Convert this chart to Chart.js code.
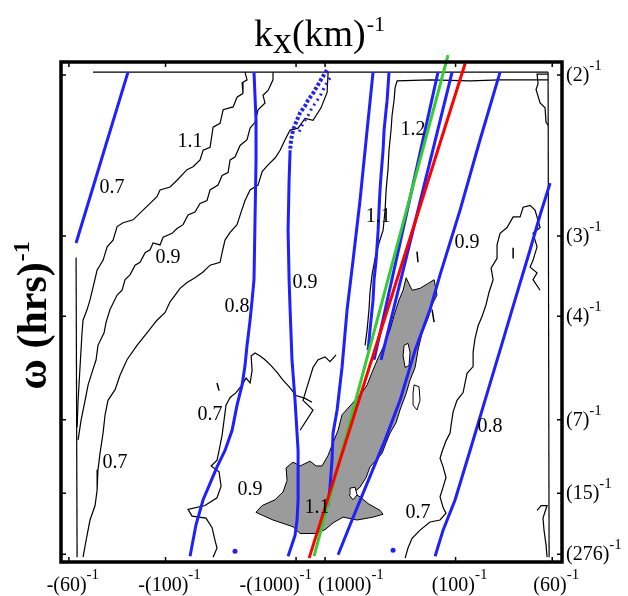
<!DOCTYPE html>
<html><head><meta charset="utf-8">
<script src="https://cdn.jsdelivr.net/npm/chart.js@4"></script>
<style>html,body{margin:0;padding:0;background:#fff;} #wrap{width:628px;height:596px;}</style>
</head><body><div id="wrap"><canvas id="c" width="628" height="596"></canvas></div>
<script>
// ---- axis ticks (kx in 10^-3 km^-1, omega in hr^-1) ----
const kTicks = [-1000/60, -10, -1, 1, 10, 1000/60];
const kTickLabels = ['-(60)', '-(100)', '-(1000)', '(1000)', '(100)', '(60)'];
const wTicks = [1/2, 1/3, 1/4, 1/7, 1/15, 1/276];
const wTickLabels = ['(2)', '(3)', '(4)', '(7)', '(15)', '(276)'];

// ---- black coherence contours [kx, omega] ----
const contourTop = [[-15.00,.503],[16.38,.503]];
const contourLeftEdge = [[-16.17,.311],[-16.10,.0005]];
const contourRightEdge = [[16.38,.503],[16.45,.0005]];
const contourA = [[-4.52,.503],[-4.38,.495],[-4.72,.492],[-4.66,.481],[-5.07,.477],[-5.34,.467],[-6.03,.464],[-6.24,.450],[-6.72,.446],[-6.93,.425],[-7.41,.422],[-7.62,.412],[-8.10,.405],[-8.52,.402],[-9.21,.391],[-9.69,.384],[-10.38,.381],[-10.59,.374],[-11.07,.367],[-11.55,.360],[-12.24,.350],[-12.93,.347],[-13.34,.343],[-13.62,.329],[-14.03,.322],[-14.31,.308],[-14.72,.298],[-15.00,.280],[-15.21,.267],[-15.41,.257],[-15.69,.246],[-15.76,.233],[-15.90,.197],[-16.03,.163],[-16.10,.135]];
const contourB = [[-2.59,.503],[-2.59,.495],[-2.93,.484],[-3.28,.479],[-3.14,.471],[-3.62,.464],[-3.83,.451],[-4.17,.445],[-4.38,.433],[-4.86,.427],[-5.21,.415],[-5.55,.412],[-5.69,.399],[-6.10,.396],[-6.38,.386],[-6.93,.381],[-7.14,.370],[-7.62,.367],[-7.97,.358],[-8.45,.355],[-8.79,.345],[-9.21,.341],[-9.55,.336],[-10.17,.332],[-10.38,.324],[-10.86,.326],[-11.07,.319],[-11.41,.316],[-11.76,.306],[-12.10,.303],[-12.45,.293],[-12.79,.288],[-13.00,.277],[-13.34,.272],[-13.83,.257],[-14.10,.244],[-14.24,.233],[-14.66,.220],[-14.79,.205],[-15.07,.192],[-15.34,.179],[-15.55,.163],[-15.83,.142],[-16.03,.122]];
const contourC = [[1.21,.503],[1.14,.482],[0.72,.466],[0.17,.453],[-0.38,.455],[-0.86,.445],[-1.41,.443],[-1.76,.433],[-2.10,.422],[-2.45,.414],[-2.93,.407],[-3.34,.400],[-3.62,.386],[-4.17,.381],[-4.52,.370],[-4.79,.358],[-5.07,.345],[-5.55,.337],[-5.90,.329],[-6.10,.316],[-6.24,.306],[-6.93,.303],[-7.41,.296],[-7.97,.290],[-8.52,.285],[-9.00,.279],[-9.34,.272],[-9.69,.265],[-10.03,.254],[-10.59,.246],[-11.28,.233],[-11.97,.220],[-12.66,.205],[-13.14,.189],[-13.48,.174],[-13.97,.163],[-14.17,.148],[-14.31,.129],[-14.52,.108],[-14.66,.091],[-14.72,.070],[-14.86,.054],[-15.21,.039],[-15.48,.018],[-15.69,.0005]];
const contourD = [[0.10,.161],[-0.38,.165],[-1.00,.168],[-1.41,.176],[-1.90,.184],[-2.31,.192],[-2.72,.199],[-3.14,.205],[-3.48,.209],[-3.83,.212],[-4.10,.209],[-4.03,.194],[-4.17,.181],[-4.45,.186],[-4.72,.179],[-5.14,.171],[-5.55,.166],[-5.83,.158],[-5.97,.142],[-6.10,.127],[-6.31,.111],[-6.45,.101],[-6.86,.095],[-6.31,.089],[-6.17,.074],[-6.45,.062],[-7.28,.054],[-8.45,.050],[-8.17,.043],[-7.21,.041],[-6.79,.031],[-6.59,.018],[-6.45,.010],[-6.72,.0005]];
const contourE = [[-0.72,.132],[0.17,.153],[-0.52,.163],[-0.24,.177],[0.17,.197],[0.52,.205],[1.00,.208],[1.34,.203],[1.76,.210]];
const contour12 = [[16.38,.495],[13.07,.495],[11.00,.494],[8.24,.495],[5.97,.494],[5.83,.487],[5.76,.474],[5.62,.458],[5.55,.443],[5.41,.422],[5.34,.402],[5.21,.381],[5.14,.360],[5.00,.339],[4.72,.326],[4.45,.310],[4.24,.293],[4.10,.275],[4.03,.257],[3.90,.236],[3.76,.220]];
const contourR = [[15.83,.277],[15.34,.288],[15.62,.295],[15.14,.301],[15.34,.308],[15.62,.322],[15.34,.336],[15.83,.342],[15.48,.360],[15.14,.365],[14.66,.363],[14.45,.353],[13.97,.353],[13.55,.342],[13.07,.336],[12.86,.324],[12.86,.310],[12.45,.300],[12.59,.288],[12.31,.275],[12.10,.262],[11.83,.250],[11.55,.240],[11.34,.227],[11.21,.213],[11.21,.198],[10.79,.191],[10.52,.171],[10.10,.163],[9.83,.151],[9.69,.137],[9.62,.129],[9.34,.121],[9.07,.110],[8.93,.103],[9.14,.094],[9.34,.083],[9.14,.073],[8.93,.063],[9.14,.052],[9.34,.046],[8.93,.039],[8.24,.037],[7.55,.0285],[7.00,.020],[6.72,.010],[6.52,-.0005]];
const contourRTop = [[16.38,.501],[15.62,.501],[15.69,.491],[15.55,.485],[15.83,.471],[16.17,.466],[16.24,.451],[16.38,.448]];
const contourRBot = [[15.62,.049],[15.90,.054],[16.31,.054],[16.03,.041],[16.10,.0285],[16.24,.013],[16.31,.0005]];
const islands = [[[7.34,.317],[7.41,.306]], [[13.97,.321],[13.97,.310]], [[8.38,.257],[8.52,.244]], [[-6.45,.181],[-6.31,.173]]];

// ---- shaded (significant) region and its holes ----
const shaded = [[-3.76,.047],[-3.34,.054],[-2.45,.060],[-1.90,.068],[-1.62,.080],[-1.69,.093],[-1.21,.099],[-0.72,.095],[-0.03,.100],[0.38,.095],[0.79,.095],[1.21,.106],[1.55,.119],[1.90,.132],[2.17,.148],[2.59,.155],[3.07,.163],[3.55,.171],[3.90,.179],[4.24,.192],[4.66,.207],[5.14,.222],[5.48,.236],[5.76,.251],[6.10,.267],[6.38,.277],[6.59,.290],[7.00,.277],[7.55,.279],[8.10,.284],[8.52,.288],[8.72,.272],[8.38,.262],[8.10,.248],[7.69,.233],[7.41,.215],[7.21,.197],[6.86,.184],[6.59,.170],[6.17,.153],[5.90,.140],[5.48,.129],[5.21,.119],[4.93,.108],[4.52,.101],[4.10,.094],[3.83,.083],[3.41,.073],[2.93,.067],[3.41,.063],[3.97,.056],[4.79,.049],[5.00,.045],[4.31,.042],[3.21,.039],[2.24,.042],[1.55,.036],[1.00,.029],[0.31,.025],[-0.72,.025],[-1.21,.032],[-2.59,.039],[-3.48,.045],[-3.76,.047]];
const holes = [
  [[6.45,.220],[6.72,.222],[6.86,.213],[6.79,.199],[6.52,.197],[6.38,.209],[6.45,.220]],
  [[7.14,.179],[7.48,.177],[7.55,.163],[7.34,.153],[7.07,.158],[7.07,.171],[7.14,.179]],
  [[2.72,.072],[3.07,.073],[3.21,.065],[2.93,.060],[2.66,.065],[2.72,.072]]
];

// ---- blue model curves ----
const blue1 = [[-12.59,.503],[-16.17,.326]];
const blue2 = [[-3.90,.503],[-3.76,.453],[-3.76,.412],[-3.83,.350],[-3.90,.288],[-4.03,.267],[-4.17,.246],[-4.38,.220],[-4.52,.199],[-4.72,.179],[-5.07,.158],[-5.41,.132],[-5.90,.111],[-6.45,.094],[-6.93,.077],[-7.41,.060],[-7.90,.034],[-8.31,.0015]];
const blue3Dots = [[1.14,.505],[0.79,.497],[0.52,.490],[0.17,.481],[-0.17,.474],[-0.38,.468],[-0.72,.461],[-1.00,.451],[-1.21,.443],[-1.34,.433],[-1.41,.422]];
const blue3DotsB = [[1.34,.497],[1.00,.489],[0.72,.480],[0.38,.472],[0.10,.466],[-0.17,.458],[-0.52,.450],[-0.79,.441]];
const blue3 = [[-1.41,.422],[-1.48,.391],[-1.55,.339],[-1.48,.288],[-1.41,.257],[-1.28,.205],[-1.07,.163],[-0.86,.111],[-0.86,.060],[-0.93,.039],[-1.07,.023],[-1.55,.0015]];
const blue4 = [[4.31,.503],[3.90,.443],[3.41,.370],[2.93,.308],[2.52,.257],[2.17,.197],[1.83,.153],[1.55,.129],[1.48,.101],[1.34,.073],[1.21,.054]];
const blue5 = [[5.41,.503],[5.28,.474],[5.21,.464],[5.07,.443],[5.00,.422],[4.86,.396],[4.79,.381],[4.72,.360],[4.66,.339],[4.52,.308],[4.38,.288],[4.31,.267],[4.10,.236],[3.97,.215]];
const blue6 = [[8.79,.503],[4.38,.205]];
const blue7 = [[9.76,.503],[4.86,.205]];
const blue8 = [[13.07,.503],[11.69,.433],[10.31,.360],[8.93,.293],[8.24,.257],[7.21,.215],[6.17,.163],[5.14,.122],[3.90,.077],[2.86,.039],[1.90,.003]];
const blue9 = [[16.52,.388],[15.83,.355],[15.14,.319],[14.10,.267],[13.07,.215],[12.03,.163],[11.00,.111],[9.97,.060],[9.14,.0285],[8.59,.0015]];
const blueSpots = [[-5.21,.0067],[5.69,.0078]];
const greenLine = [[9.48,.5207],[0.24,.0015]];
const redLine = [[10.66,.512],[-0.10,-.0005]];

// ---- contour labels ----
const labelText = ['1.1','0.7','0.9','0.8','0.9','0.7','0.7','0.9','1.1','1.2','1.1','0.9','0.8','0.7'];
const labelK = [-8.31,-13.69,-9.83,-5.07,-0.38,-6.93,-13.48,-4.17,0.45,7.07,4.66,10.79,12.38,7.41];
const labelW = [0.4305,0.383,0.3103,0.2596,0.2844,0.1476,0.0979,0.0699,0.0513,0.443,0.3528,0.3259,0.1352,0.0461];

const SERIF = '"Liberation Serif", "Times New Roman", serif';
const BLUE = '#1f1fff', BLACK = '#000', GREEN = '#33cc33', RED = '#ff0000', GRAY = '#9b9b9b';

function pts(a){ return a.map(p => ({x:p[0], y:p[1]})); }
function ln(a, color, width, order, extra){
  return Object.assign({data: pts(a), showLine: true, borderColor: color, backgroundColor: color,
    borderWidth: width, pointRadius: 0, pointHoverRadius: 0, fill: false, tension: 0, order: order}, extra || {});
}

const datasets = [];
datasets.push(ln(redLine, RED, 3, 1, {clip: false}));
datasets.push(ln(greenLine, GREEN, 3, 2, {clip: false}));
[blue1, blue2, blue3, blue4, blue5, blue6, blue7, blue8, blue9].forEach(b => datasets.push(ln(b, BLUE, 3, 3)));
datasets.push(ln(blue3Dots, BLUE, 4, 3, {borderDash: [3, 2]}));
datasets.push(ln(blue3DotsB, BLUE, 3, 3, {borderDash: [2, 4]}));
datasets.push({data: pts(blueSpots), showLine: false, pointRadius: 2.5, pointBackgroundColor: BLUE, pointBorderWidth: 0, order: 3});
[contourTop, contourLeftEdge, contourRightEdge, contourA, contourB, contourC, contourD, contourE, contour12, contourR, contourRTop, contourRBot]
  .forEach(c => datasets.push(ln(c, BLACK, 1.2, 5)));
islands.forEach(c => datasets.push(ln(c, BLACK, 1.5, 5)));
holes.forEach(h => datasets.push(ln(h, BLACK, 1, 8, {polyFill: '#ffffff'})));
datasets.push(ln(shaded, BLACK, 1, 10, {polyFill: GRAY}));

const polyFill = {
  id: 'polyFill',
  beforeDatasetDraw(chart, args) {
    const ds = chart.data.datasets[args.index];
    if (!ds.polyFill) return;
    const p = args.meta.data, ctx = chart.ctx;
    ctx.save(); ctx.beginPath();
    p.forEach((e, i) => i ? ctx.lineTo(e.x, e.y) : ctx.moveTo(e.x, e.y));
    ctx.closePath(); ctx.fillStyle = ds.polyFill; ctx.fill(); ctx.restore();
  }
};

function supText(ctx, main, sup, x, y, align, fMain, fSup, raise){
  ctx.font = fMain; const wm = ctx.measureText(main).width;
  ctx.font = fSup; const ws = ctx.measureText(sup).width;
  const total = wm + ws;
  const x0 = align === 'center' ? x - total / 2 : (align === 'right' ? x - total : x);
  ctx.textAlign = 'left'; ctx.textBaseline = 'alphabetic';
  ctx.font = fMain; ctx.fillText(main, x0, y);
  ctx.font = fSup; ctx.fillText(sup, x0 + wm, y - raise);
}

const decor = {
  id: 'decor',
  afterDatasetsDraw(chart) {
    const ctx = chart.ctx, a = chart.chartArea, xs = chart.scales.x, ys = chart.scales.y;
    ctx.save();
    ctx.fillStyle = '#000';
    // contour labels
    ctx.font = '20px ' + SERIF; ctx.textAlign = 'center'; ctx.textBaseline = 'middle';
    labelText.forEach((t, i) => ctx.fillText(t, xs.getPixelForValue(labelK[i]), ys.getPixelForValue(labelW[i])));
    // frame
    ctx.strokeStyle = '#000'; ctx.lineWidth = 3.5;
    ctx.strokeRect(a.left, a.top, a.right - a.left, a.bottom - a.top);
    // tick marks (inward)
    ctx.lineWidth = 1.5;
    kTicks.forEach(v => { const x = xs.getPixelForValue(v);
      ctx.beginPath(); ctx.moveTo(x, a.bottom); ctx.lineTo(x, a.bottom - 5); ctx.moveTo(x, a.top); ctx.lineTo(x, a.top + 5); ctx.stroke(); });
    wTicks.forEach(v => { const y = ys.getPixelForValue(v);
      ctx.beginPath(); ctx.moveTo(a.right, y); ctx.lineTo(a.right - 5, y); ctx.moveTo(a.left, y); ctx.lineTo(a.left + 5, y); ctx.stroke(); });
    // x tick labels
    const fM = '20px ' + SERIF, fS = '15px ' + SERIF;
    kTicks.forEach((v, i) => {
      const x = xs.getPixelForValue(v);
      if (Math.abs(v) < 2) {
        if (v < 0) supText(ctx, kTickLabels[i], '-1', x + 16, a.bottom + 29, 'right', fM, fS, 12);
        else supText(ctx, kTickLabels[i], '-1', x - 7, a.bottom + 29, 'left', fM, fS, 12);
      } else supText(ctx, kTickLabels[i], '-1', x + 4, a.bottom + 29, 'center', fM, fS, 12);
    });
    // y tick labels (right)
    wTicks.forEach((v, i) => supText(ctx, wTickLabels[i], '-1', a.right + 4, ys.getPixelForValue(v) + 6, 'left', fM, fS, 11));
    // x title
    (function(){
      const big = '38px ' + SERIF, sup = '22px ' + SERIF;
      ctx.font = big; const wk = ctx.measureText('k').width, wx = ctx.measureText('x').width, wkm = ctx.measureText('(km)').width;
      ctx.font = sup; const ws = ctx.measureText('-1').width;
      let x0 = 319 - (wk + wx + wkm + ws) / 2;
      ctx.textAlign = 'left'; ctx.textBaseline = 'alphabetic';
      ctx.font = big; ctx.fillText('k', x0, 46); ctx.fillText('x', x0 + wk, 53); ctx.fillText('(km)', x0 + wk + wx, 46);
      ctx.font = sup; ctx.fillText('-1', x0 + wk + wx + wkm + 1, 31);
    })();
    // y title (rotated)
    (function(){
      ctx.save(); ctx.translate(46, 316); ctx.rotate(-Math.PI / 2);
      const big = 'bold 42px ' + SERIF, sup = 'bold 24px ' + SERIF;
      ctx.font = big; const wm = ctx.measureText('\u03c9 (hrs)').width;
      ctx.font = sup; const ws = ctx.measureText('-1').width;
      const x0 = -(wm + ws) / 2;
      ctx.textAlign = 'left'; ctx.textBaseline = 'alphabetic';
      ctx.font = big; ctx.fillText('\u03c9 (hrs)', x0, 0);
      ctx.font = sup; ctx.fillText('-1', x0 + wm + 1, -17);
      ctx.restore();
    })();
    ctx.restore();
  }
};

new Chart(document.getElementById('c'), {
  type: 'scatter',
  data: { datasets: datasets },
  options: {
    responsive: false, devicePixelRatio: 1, animation: false,
    layout: { padding: { left: 61, top: 62, right: 0, bottom: 0 } },
    plugins: { legend: { display: false }, tooltip: { enabled: false }, title: { display: false } },
    scales: {
      x: { type: 'linear', position: 'bottom', min: -17.21, max: 17.34,
           ticks: { display: false }, grid: { display: false }, border: { display: false },
           afterFit(s) { s.height = 34; } },
      y: { type: 'linear', position: 'right', min: -0.0045, max: 0.5135,
           ticks: { display: false }, grid: { display: false }, border: { display: false },
           afterFit(s) { s.width = 66; } }
    }
  },
  plugins: [polyFill, decor]
});
</script></body></html>
